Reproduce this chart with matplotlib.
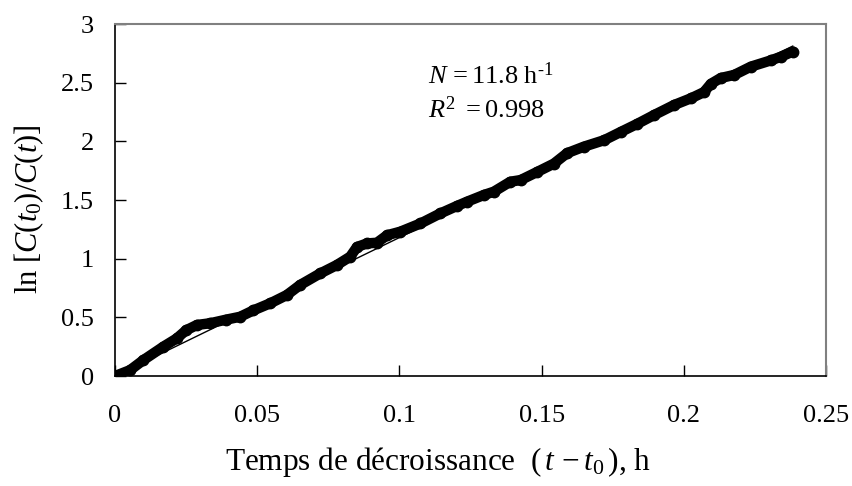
import numpy as np
import matplotlib
matplotlib.use('Agg')
import matplotlib.pyplot as plt

plt.rcParams['font.family'] = 'Liberation Serif'
plt.rcParams['mathtext.fontset'] = 'custom'
plt.rcParams['mathtext.rm'] = 'Liberation Serif'
plt.rcParams['mathtext.it'] = 'Liberation Serif:italic'

# Courbe de décroissance : temps (h) et ln[C(t0)/C(t)]
temps = [0.0, 0.0053, 0.010, 0.017, 0.0217, 0.025, 0.0288, 0.0335, 0.039,
         0.044, 0.0487, 0.0546, 0.0604, 0.0651, 0.0722, 0.078, 0.0827,
         0.0851, 0.0886, 0.0921, 0.0957, 0.1003, 0.1074, 0.1144, 0.1203,
         0.1238, 0.1297, 0.1332, 0.139, 0.1426, 0.1485, 0.1543, 0.159,
         0.1649, 0.172, 0.1778, 0.1837, 0.1896, 0.1966, 0.2025, 0.2071,
         0.2095, 0.213, 0.2177, 0.2236, 0.2306, 0.234, 0.2383]
ln_ratio = [0.0, 0.05, 0.136, 0.25, 0.32, 0.39, 0.435, 0.45, 0.48,
            0.505, 0.56, 0.62, 0.69, 0.776, 0.875, 0.946, 1.017,
            1.10, 1.13, 1.136, 1.20, 1.23, 1.30, 1.386, 1.45,
            1.486, 1.543, 1.571, 1.656, 1.67, 1.74, 1.81, 1.90,
            1.955, 2.01, 2.08, 2.15, 2.225, 2.31, 2.367, 2.42,
            2.49, 2.54, 2.566, 2.637, 2.69, 2.72, 2.765]

N = 11.8      # pente de la régression, h-1
R2 = 0.998

fig = plt.figure(figsize=(8.53, 4.86), dpi=100)
ax = fig.add_axes([0.1348, 0.2263, 0.9684 - 0.1348, 0.9506 - 0.2263])

ax.plot(temps, ln_ratio, color='black', lw=7.5, marker='o', ms=7.5,
        solid_capstyle='round', solid_joinstyle='round', zorder=2)

# droite de régression passant par l'origine
t_fit = np.array([0.0, max(temps)])
ax.plot(t_fit, N * t_fit, color='black', lw=1.0, zorder=3)

ax.text(0.132, 2.56, r'$N\, = %.1f\ \mathrm{h}^{\mathrm{‐1}}$' % N,
        ha='center', va='center', fontsize=19)
ax.text(0.1305, 2.27, r'$R^2\,\, = %.3f$' % R2, ha='center', va='center',
        fontsize=19)

ax.set_xlim(0, 0.25)
ax.set_ylim(0, 3)
ax.set_xticks([0, 0.05, 0.1, 0.15, 0.2, 0.25])
ax.set_xticklabels(['0', '0.05', '0.1', '0.15', '0.2', '0.25'])
ax.set_yticks([0, 0.5, 1, 1.5, 2, 2.5, 3])
ax.set_yticklabels(['0', '0.5', '1', '1.5', '2', '2.5', '3'])
ax.tick_params(direction='in', length=8, width=1, labelsize=19)
ax.tick_params(axis='x', pad=21)
ax.tick_params(axis='y', pad=15)

for s in ['left', 'bottom']:
    ax.spines[s].set_color('black')
    ax.spines[s].set_linewidth(1.2)
for s in ['top', 'right']:
    ax.spines[s].set_color('#808080')
    ax.spines[s].set_linewidth(1.5)

ax.set_xlabel(r'Temps de décroissance  $(\,t\, - t_0\,)$, h', fontsize=22.5)
ax.xaxis.set_label_coords(0.454, -0.195)
ax.set_ylabel(r'ln [$C(t_0)/C(t)$]', fontsize=22)
ax.yaxis.set_label_coords(-0.097, 0.474)

fig.savefig('out.png', dpi=100)
